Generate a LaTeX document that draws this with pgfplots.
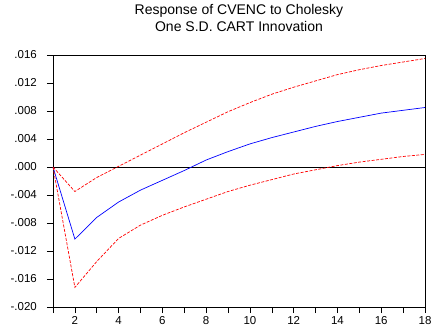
\documentclass[border=0pt]{standalone}
\usepackage{pgfplots}
\pgfplotsset{compat=1.18}
\usepackage{fontspec}
\setmainfont{Liberation Sans}
\begin{document}
\begin{tikzpicture}
\useasboundingbox (-53pt,-26pt) rectangle (380pt,307pt);
\begin{axis}[
  scale only axis,
  width=372pt, height=252pt,
  at={(0pt,0pt)}, anchor=south west,
  xmin=1, xmax=18, ymin=-0.020, ymax=0.016,
  scaled y ticks=false,
  axis line style={black, line width=0.8pt},
  xtick={2,4,...,18},
  minor xtick={1,3,...,17},
  ytick={-0.020,-0.016,-0.012,-0.008,-0.004,0,0.004,0.008,0.012,0.016},
  yticklabels={-.020,-.016,-.012,-.008,-.004,.000,.004,.008,.012,.016},
  xticklabels={2,4,6,8,10,12,14,16,18},
  tick align=outside,
  xtick pos=bottom, ytick pos=left,
  major tick length=6pt, minor tick length=6pt,
  tick style={black, line width=0.6pt},
  every tick label/.append style={font=\fontsize{11.5}{13}\selectfont},
  yticklabel style={anchor=east, xshift=-8pt, inner sep=2pt},
  title={Response of CVENC to Cholesky\\One S.D. CART Innovation},
  title style={font=\fontsize{14}{17}\selectfont, align=center, at={(0.5,1)}, anchor=south, yshift=14pt},
  clip=true,
]
\addplot[black, line width=0.6pt, forget plot] coordinates {(1,0) (18,0)};
\addplot[blue, line width=0.7pt] coordinates {
(1,0) (2,-0.0103) (3,-0.0072) (4,-0.0050) (5,-0.0033) (6,-0.0019) (7,-0.0005)
(8,0.0010) (9,0.0022) (10,0.0033) (11,0.0042) (12,0.0050) (13,0.0058)
(14,0.0065) (15,0.0071) (16,0.0077) (17,0.0081) (18,0.0085)};
\addplot[red, line width=0.7pt, dash pattern=on 3pt off 1.5pt] coordinates {
(1,0) (2,-0.0035) (3,-0.0015) (4,0.0001) (5,0.0017) (6,0.0033) (7,0.0049)
(8,0.0064) (9,0.0079) (10,0.0092) (11,0.0104) (12,0.0114) (13,0.0123)
(14,0.0132) (15,0.0139) (16,0.0145) (17,0.0150) (18,0.0155)};
\addplot[red, line width=0.7pt, dash pattern=on 3pt off 1.5pt] coordinates {
(1,0) (2,-0.0172) (3,-0.0135) (4,-0.0102) (5,-0.0083) (6,-0.0069) (7,-0.0057)
(8,-0.0046) (9,-0.0035) (10,-0.0026) (11,-0.0018) (12,-0.0010) (13,-0.0004)
(14,0.0002) (15,0.0007) (16,0.0011) (17,0.0015) (18,0.0018)};
\end{axis}
\end{tikzpicture}
\end{document}
